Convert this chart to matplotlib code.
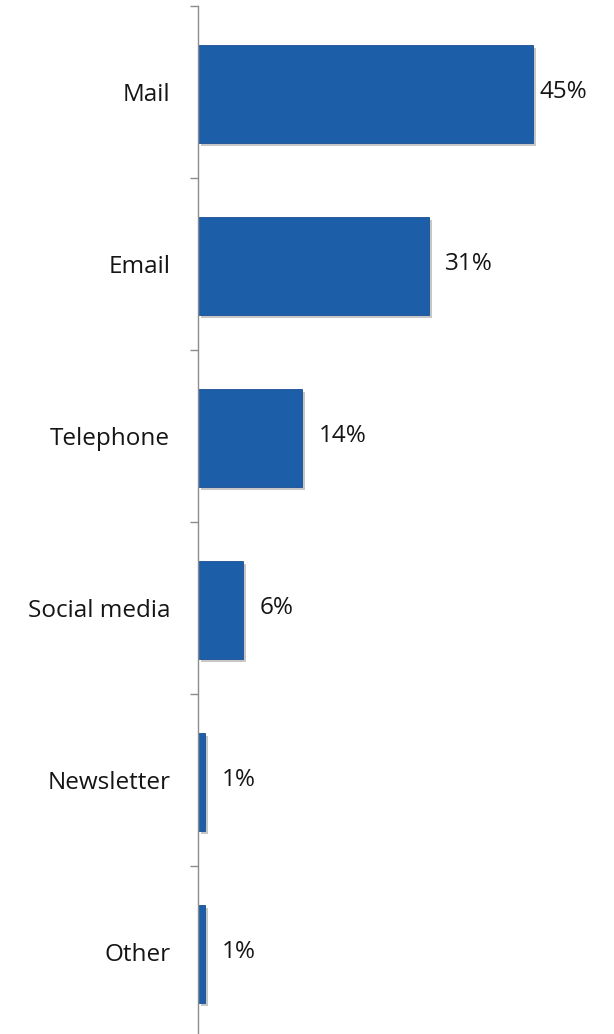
import matplotlib
matplotlib.use("Agg")
import matplotlib.pyplot as plt
import matplotlib.patheffects as pe
import numpy as np

categories = ["Mail", "Email", "Telephone", "Social media", "Newsletter", "Other"]
values = [45, 31, 14, 6, 1, 1]
labels = ["45%", "31%", "14%", "6%", "1%", "1%"]

plt.rcParams["font.family"] = ["Open Sans", "DejaVu Sans"]

W, H = 614, 1034
fig = plt.figure(figsize=(W / 100, H / 100), dpi=100)
# axes placed in pixel terms: axis line at x=198, bands of 172 px from y=6
left, right = 198, 198 + 50 * 7.44
top, bottom = 6, 6 + 172 * 6
ax = fig.add_axes([left / W, 1 - bottom / H, (right - left) / W, (bottom - top) / H])

y = np.arange(len(categories))
bars = ax.barh(y + 0.01, values, height=0.57, color="#1d5ea9", edgecolor="#1a4f92", linewidth=0.6,
               path_effects=[pe.SimplePatchShadow(offset=(2.2, -2.2), shadow_rgbFace="0.78", alpha=1.0),
                             pe.Normal()])

ax.set_xlim(0, 50)
ax.set_ylim(len(categories) - 0.5, -0.5)

for i, (v, lab) in enumerate(zip(values, labels)):
    off = 5 if i == 0 else 12
    ax.annotate(lab, (v, i), xytext=(off, 0), textcoords="offset points",
                va="center", ha="left", fontsize=17.5, color="#151515")

ax.set_yticks(y)
ax.set_yticklabels(categories, fontsize=17.5, color="#151515")
ax.tick_params(axis="y", which="major", length=0, pad=20)
ax.set_yticks(np.arange(-0.5, len(categories) + 0.5, 1), minor=True)
ax.tick_params(axis="y", which="minor", length=6, color="#8c8c8c", width=1)

ax.set_xticks([])
for s in ["top", "right", "bottom"]:
    ax.spines[s].set_visible(False)
ax.spines["left"].set_color("#8c8c8c")
ax.spines["left"].set_linewidth(1)

fig.savefig("out.png", dpi=100)
